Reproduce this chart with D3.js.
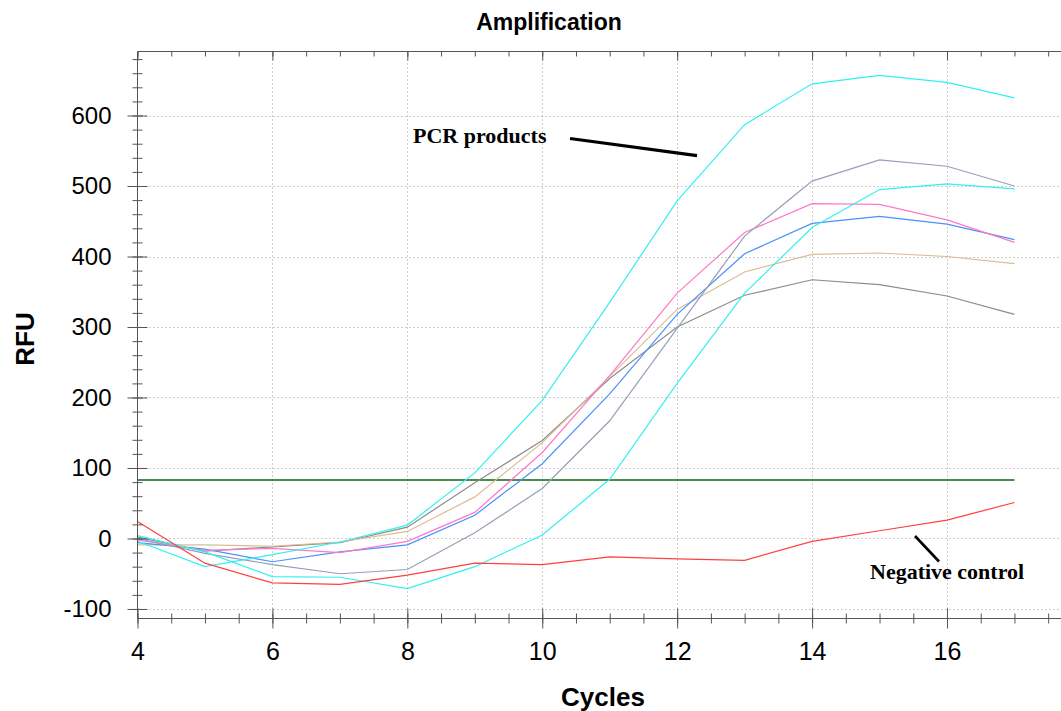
<!DOCTYPE html>
<html>
<head>
<meta charset="utf-8">
<script src="https://cdn.jsdelivr.net/npm/d3@7"></script>
<style>
  body { margin: 0; background: #fff; }
  svg { display: block; }
</style>
</head>
<body>
<svg id="chart" width="1061" height="711"></svg>
<script>
// Amplification curves (RFU per cycle)
const cycles      = [4, 5, 6, 7, 8, 9, 10, 11, 12, 13, 14, 15, 16, 17];
const wellCyanA   = [-4, -40, -23, -5, 19, 93, 196, 335, 479, 587, 645, 657, 647, 625];
const wellSlate   = [0, -21, -37, -50, -44, 8, 71, 167, 298, 429, 507, 537, 528, 500];
const wellCyanB   = [4, -19, -54, -55, -71, -40, 5, 84, 220, 348, 441, 495, 503, 496];
const wellPink    = [-2, -17, -14, -20, -4, 37, 122, 231, 348, 434, 475, 474, 452, 420];
const wellBlue    = [-6, -15, -33, -19, -9, 33, 106, 205, 318, 404, 447, 457, 446, 424];
const wellTan     = [-9, -9, -11, -5, 10, 59, 136, 230, 325, 378, 403, 405, 400, 390];
const wellGrey    = [2, -18, -12, -6, 16, 79, 139, 227, 300, 345, 367, 360, 344, 318];
const negControl  = [24, -35, -63, -65, -52, -35, -37, -26, -29, -31, -4, 11, 26, 51];
const threshold   = 83;

const xMajorTicks = [4, 6, 8, 10, 12, 14, 16];
const yMajorTicks = [-100, 0, 100, 200, 300, 400, 500, 600];

const traces = [
  { values: wellGrey,   color: "#8c8c8c" },
  { values: wellTan,    color: "#dcbc94" },
  { values: wellBlue,   color: "#4a90ff" },
  { values: wellPink,   color: "#ff78c8" },
  { values: wellSlate,  color: "#94a0b6" },
  { values: wellCyanB,  color: "#33f0f0" },
  { values: wellCyanA,  color: "#33f0f0" },
  { values: negControl, color: "#ff4040" }
];

const svg = d3.select("#chart");
const plotLeft = 137.5, plotTop = 51.5, plotBottom = 618.5, plotRight = 1061;

const x = d3.scaleLinear().domain([4, 17.69]).range([plotLeft, plotRight]);
const y = d3.scaleLinear().domain([-113.5, 690.8]).range([plotBottom, plotTop]);

const sans = "'Liberation Sans', Arial, sans-serif";
const serif = "'Liberation Serif', 'Times New Roman', serif";
const axisColor = "#555";

// dotted grid
const grid = svg.append("g").attr("stroke", "#9a9a9a").attr("stroke-width", 1)
  .attr("stroke-dasharray", "1,3");
grid.selectAll("line.v").data(xMajorTicks.filter(d => d > 4)).join("line")
  .attr("class", "v")
  .attr("x1", d => Math.round(x(d)) + 0.5).attr("x2", d => Math.round(x(d)) + 0.5)
  .attr("y1", plotTop).attr("y2", plotBottom);
grid.selectAll("line.h").data(yMajorTicks).join("line")
  .attr("class", "h")
  .attr("x1", plotLeft).attr("x2", plotRight)
  .attr("y1", d => Math.round(y(d)) + 0.5).attr("y2", d => Math.round(y(d)) + 0.5);

// threshold line
svg.append("line")
  .attr("x1", plotLeft).attr("x2", x(17))
  .attr("y1", y(threshold)).attr("y2", y(threshold))
  .attr("stroke", "#0a6a0a").attr("stroke-width", 1.6);

// curves
const line = d3.line().x((d, i) => x(cycles[i])).y(d => y(d));
svg.append("g").selectAll("path").data(traces).join("path")
  .attr("d", d => line(d.values))
  .attr("fill", "none")
  .attr("stroke", d => d.color)
  .attr("stroke-width", 1.2);

// axes
const yMinor = d3.range(-100, 691, 20);
const xMinor = d3.range(4, 17.7, 0.5);

function noDomain(g) { g.select(".domain").remove(); g.selectAll(".tick line").attr("stroke", axisColor); }

svg.append("g").attr("transform", `translate(${plotLeft},0)`)
  .call(d3.axisLeft(y).tickValues(yMinor).tickSize(5).tickFormat("")).call(noDomain);
svg.append("g").attr("transform", `translate(${plotLeft},0)`)
  .call(d3.axisRight(y).tickValues(yMinor).tickSize(5).tickFormat("")).call(noDomain);
svg.append("g").attr("transform", `translate(${plotLeft},0)`)
  .call(d3.axisRight(y).tickValues(yMajorTicks).tickSize(10).tickFormat("")).call(noDomain);
const yAxis = svg.append("g").attr("transform", `translate(${plotLeft},0)`)
  .call(d3.axisLeft(y).tickValues(yMajorTicks).tickSize(10).tickPadding(16)
    .tickFormat(d => d < 0 ? "-" + Math.abs(d) : d))
  .call(noDomain);
yAxis.selectAll("text").attr("font-family", sans).attr("font-size", 24).attr("fill", "#000");

svg.append("g").attr("transform", `translate(0,${plotBottom})`)
  .call(d3.axisBottom(x).tickValues(xMinor).tickSize(5).tickFormat("")).call(noDomain);
svg.append("g").attr("transform", `translate(0,${plotBottom})`)
  .call(d3.axisTop(x).tickValues(xMinor).tickSize(5).tickFormat("")).call(noDomain);
svg.append("g").attr("transform", `translate(0,${plotBottom})`)
  .call(d3.axisTop(x).tickValues(xMajorTicks).tickSize(10).tickFormat("")).call(noDomain);
const xAxis = svg.append("g").attr("transform", `translate(0,${plotBottom})`)
  .call(d3.axisBottom(x).tickValues(xMajorTicks).tickSize(10).tickPadding(14))
  .call(noDomain);
xAxis.selectAll("text").attr("font-family", sans).attr("font-size", 25).attr("fill", "#000");

// top frame ticks
svg.append("g").attr("transform", `translate(0,${plotTop})`)
  .call(d3.axisBottom(x).tickValues(xMinor).tickSize(5).tickFormat("")).call(noDomain);
svg.append("g").attr("transform", `translate(0,${plotTop})`)
  .call(d3.axisBottom(x).tickValues(xMajorTicks).tickSize(9).tickFormat("")).call(noDomain);

// frame lines
const frame = svg.append("g").attr("stroke", axisColor).attr("stroke-width", 1);
frame.append("line").attr("x1", plotLeft).attr("x2", plotLeft).attr("y1", plotTop).attr("y2", plotBottom);
frame.append("line").attr("x1", plotLeft).attr("x2", plotRight).attr("y1", plotBottom).attr("y2", plotBottom);
frame.append("line").attr("x1", plotLeft).attr("x2", plotRight).attr("y1", plotTop).attr("y2", plotTop);

// titles
svg.append("text").attr("x", 549).attr("y", 30).attr("text-anchor", "middle")
  .attr("font-family", sans).attr("font-weight", "bold").attr("font-size", 23)
  .text("Amplification");
svg.append("text").attr("x", 603).attr("y", 706).attr("text-anchor", "middle")
  .attr("font-family", sans).attr("font-weight", "bold").attr("font-size", 26)
  .text("Cycles");
svg.append("text").attr("transform", "translate(34,339) rotate(-90)").attr("text-anchor", "middle")
  .attr("font-family", sans).attr("font-weight", "bold").attr("font-size", 26)
  .text("RFU");

// annotations
svg.append("text").attr("x", 413).attr("y", 143)
  .attr("font-family", serif).attr("font-weight", "bold").attr("font-size", 22)
  .text("PCR products");
svg.append("line").attr("x1", 570).attr("y1", 138.5).attr("x2", 697).attr("y2", 155.7)
  .attr("stroke", "#000").attr("stroke-width", 3.2);

svg.append("text").attr("x", 870).attr("y", 579)
  .attr("font-family", serif).attr("font-weight", "bold").attr("font-size", 22)
  .text("Negative control");
svg.append("line").attr("x1", 915).attr("y1", 536).attr("x2", 939).attr("y2", 561.5)
  .attr("stroke", "#000").attr("stroke-width", 2.6);
</script>
</body>
</html>
